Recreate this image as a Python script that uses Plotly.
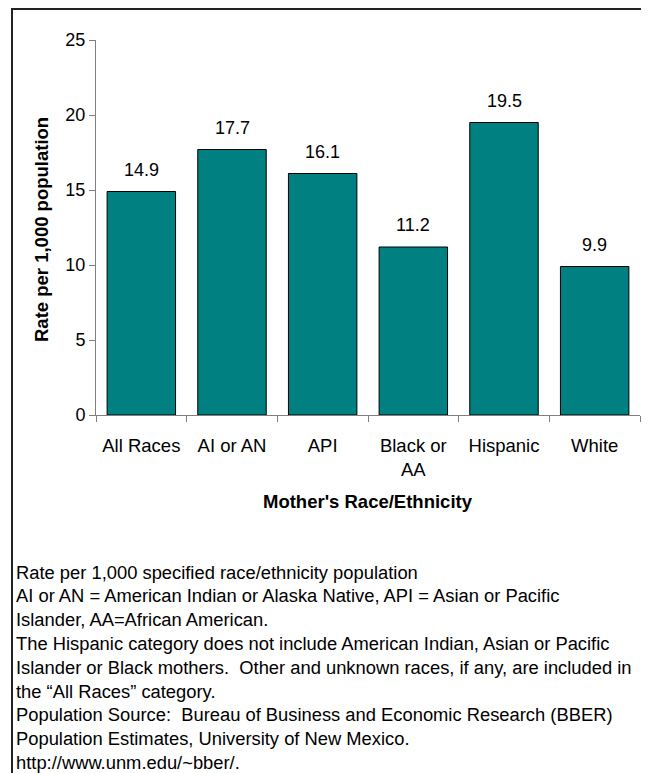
import plotly.graph_objects as go

categories = ["All Races", "AI or AN", "API", "Black or<br>AA", "Hispanic", "White"]
rates = [14.9, 17.7, 16.1, 11.2, 19.5, 9.9]
rate_labels = ["14.9", "17.7", "16.1", "11.2", "19.5", "9.9"]
y_ticks = [0, 5, 10, 15, 20, 25]

x_title = "Mother's Race/Ethnicity"
y_title = "Rate per 1,000 population"
notes = [
    "Rate per 1,000 specified race/ethnicity population",
    "AI or AN = American Indian or Alaska Native, API = Asian or Pacific",
    "Islander, AA=African American.",
    "The Hispanic category does not include American Indian, Asian or Pacific",
    "Islander or Black mothers.  Other and unknown races, if any, are included in",
    "the \u201cAll Races\u201d category.",
    "Population Source:  Bureau of Business and Economic Research (BBER)",
    "Population Estimates, University of New Mexico.",
    "http://www.unm.edu/~bber/.",
]

FONT = "Liberation Sans, Arial, sans-serif"
OFF = 8  # page body margin
W, H = 649 - OFF, 773 - OFF
PLOT_L, PLOT_R, PLOT_T, PLOT_B = 96, 640, 40, 415  # page pixels
L = PLOT_L - OFF
T = PLOT_T - OFF
R = W - (PLOT_R - OFF)
B = H - (PLOT_B - OFF)
PW = W - L - R
PH = H - T - B


def px_x(px):
    return (px - PLOT_L) / PW


def px_y(py):
    return (PLOT_B - py) / PH


fig = go.Figure()
fig.add_trace(go.Bar(
    x=categories, y=rates,
    marker=dict(color="#008080", line=dict(color="#000000", width=1)),
    hoverinfo="skip",
))

annotations = []
for c, v, t in zip(categories, rates, rate_labels):
    annotations.append(dict(
        x=c, y=v, xref="x", yref="y", text=t, showarrow=False,
        yanchor="middle", yshift=22, font=dict(family=FONT, size=18, color="#000"),
    ))

annotations.append(dict(
    x=0.5, y=px_y(501), xref="paper", yref="paper", text="<b>%s</b>" % x_title,
    showarrow=False, xanchor="center", yanchor="middle",
    font=dict(family=FONT, size=18.5, color="#000"),
))
annotations.append(dict(
    x=px_x(42), y=px_y(230), xref="paper", yref="paper", text="<b>%s</b>" % y_title,
    showarrow=False, xanchor="center", yanchor="middle", textangle=-90,
    font=dict(family=FONT, size=18.5, color="#000"),
))

for i, line in enumerate(notes):
    annotations.append(dict(
        x=px_x(14), y=px_y(572 + 23.8 * i), xref="paper", yref="paper", text=line,
        showarrow=False, xanchor="left", yanchor="middle",
        font=dict(family=FONT, size=18.35, color="#000"),
    ))

fig.update_layout(
    width=W, height=H, autosize=False,
    margin=dict(l=L, r=R, t=T, b=B, pad=0),
    paper_bgcolor="white", plot_bgcolor="white",
    showlegend=False,
    bargap=0.245,
    font=dict(family=FONT, size=18, color="#000"),
    xaxis=dict(
        type="category", tickson="boundaries", ticks="outside", ticklen=6,
        tickcolor="#808080", showline=True, linecolor="#808080", linewidth=1,
        showgrid=False, tickfont=dict(family=FONT, size=18.5, color="#000"),
        ticklabelstandoff=14, fixedrange=True,
    ),
    yaxis=dict(
        range=[0, 25], tickvals=y_ticks, ticks="outside", ticklen=6,
        tickcolor="#808080", showline=True, linecolor="#808080", linewidth=1,
        showgrid=False, zeroline=False, tickfont=dict(family=FONT, size=18, color="#000"),
        fixedrange=True,
    ),
    annotations=annotations,
    shapes=[dict(
        type="rect", xref="paper", yref="paper",
        x0=px_x(12), x1=px_x(720), y0=px_y(820), y1=px_y(9),
        line=dict(color="#222222", width=2), fillcolor="rgba(0,0,0,0)", layer="above",
    )],
)

fig.write_html("out.html")
